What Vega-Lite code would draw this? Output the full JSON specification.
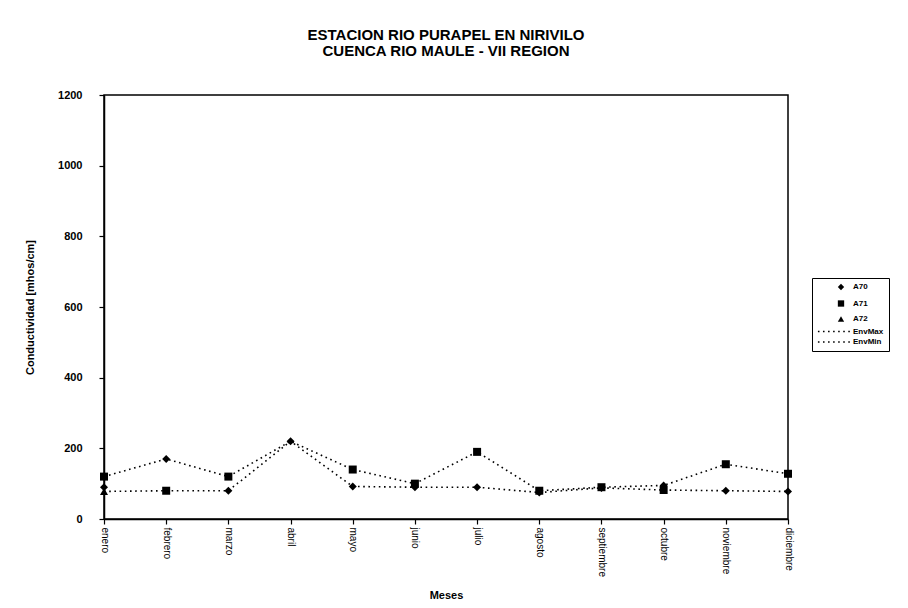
{
  "$schema": "https://vega.github.io/schema/vega-lite/v6.json",
  "width": 684,
  "height": 424,
  "autosize": {"type": "none"},
  "padding": {"left": 104, "top": 95, "right": 120, "bottom": 89},
  "background": "white",
  "config": {
    "font": "Liberation Sans",
    "view": {"stroke": "black", "strokeWidth": 1.5},
    "axis": {"grid": false, "domainColor": "black", "tickColor": "black", "labelColor": "black", "titleColor": "black", "domainWidth": 1.5, "tickWidth": 1.2}
  },
  "title": {
    "text": ["ESTACION RIO PURAPEL EN NIRIVILO", "CUENCA RIO MAULE - VII REGION"],
    "fontSize": 15,
    "fontWeight": "bold",
    "font": "Liberation Sans",
    "color": "black",
    "anchor": "middle",
    "offset": 30,
    "lineHeight": 16
  },
  "datasets": {
    "d": [
      {"mes": "enero", "serie": "A70", "valor": 90},
      {"mes": "febrero", "serie": "A70", "valor": 170},
      {"mes": "marzo", "serie": "A70", "valor": 80},
      {"mes": "abril", "serie": "A70", "valor": 220},
      {"mes": "mayo", "serie": "A70", "valor": 92},
      {"mes": "junio", "serie": "A70", "valor": 90},
      {"mes": "julio", "serie": "A70", "valor": 90},
      {"mes": "agosto", "serie": "A70", "valor": 75},
      {"mes": "septiembre", "serie": "A70", "valor": 88},
      {"mes": "octubre", "serie": "A70", "valor": 95},
      {"mes": "noviembre", "serie": "A70", "valor": 80},
      {"mes": "diciembre", "serie": "A70", "valor": 78},
      {"mes": "enero", "serie": "A71", "valor": 120},
      {"mes": "febrero", "serie": "A71", "valor": 80},
      {"mes": "marzo", "serie": "A71", "valor": 120},
      {"mes": "mayo", "serie": "A71", "valor": 140},
      {"mes": "junio", "serie": "A71", "valor": 100},
      {"mes": "julio", "serie": "A71", "valor": 190},
      {"mes": "agosto", "serie": "A71", "valor": 80},
      {"mes": "septiembre", "serie": "A71", "valor": 90},
      {"mes": "octubre", "serie": "A71", "valor": 82},
      {"mes": "noviembre", "serie": "A71", "valor": 155},
      {"mes": "diciembre", "serie": "A71", "valor": 128},
      {"mes": "enero", "serie": "A72", "valor": 78},
      {"mes": "enero", "serie": "EnvMax", "valor": 120},
      {"mes": "febrero", "serie": "EnvMax", "valor": 170},
      {"mes": "marzo", "serie": "EnvMax", "valor": 120},
      {"mes": "abril", "serie": "EnvMax", "valor": 220},
      {"mes": "mayo", "serie": "EnvMax", "valor": 140},
      {"mes": "junio", "serie": "EnvMax", "valor": 100},
      {"mes": "julio", "serie": "EnvMax", "valor": 190},
      {"mes": "agosto", "serie": "EnvMax", "valor": 80},
      {"mes": "septiembre", "serie": "EnvMax", "valor": 90},
      {"mes": "octubre", "serie": "EnvMax", "valor": 95},
      {"mes": "noviembre", "serie": "EnvMax", "valor": 155},
      {"mes": "diciembre", "serie": "EnvMax", "valor": 128},
      {"mes": "enero", "serie": "EnvMin", "valor": 78},
      {"mes": "febrero", "serie": "EnvMin", "valor": 80},
      {"mes": "marzo", "serie": "EnvMin", "valor": 80},
      {"mes": "abril", "serie": "EnvMin", "valor": 220},
      {"mes": "mayo", "serie": "EnvMin", "valor": 92},
      {"mes": "junio", "serie": "EnvMin", "valor": 90},
      {"mes": "julio", "serie": "EnvMin", "valor": 90},
      {"mes": "agosto", "serie": "EnvMin", "valor": 75},
      {"mes": "septiembre", "serie": "EnvMin", "valor": 88},
      {"mes": "octubre", "serie": "EnvMin", "valor": 82},
      {"mes": "noviembre", "serie": "EnvMin", "valor": 80},
      {"mes": "diciembre", "serie": "EnvMin", "valor": 78}
    ]
  },
  "data": {"name": "d"},
  "encoding": {
    "x": {
      "field": "mes",
      "type": "ordinal",
      "sort": ["enero", "febrero", "marzo", "abril", "mayo", "junio", "julio", "agosto", "septiembre", "octubre", "noviembre", "diciembre"],
      "scale": {"type": "point", "padding": 0},
      "axis": {
        "title": "Meses",
        "titleFontSize": 11,
        "titleFontWeight": "bold",
        "titlePadding": 13,
        "labelAngle": 90,
        "labelFontSize": 10,
        "labelPadding": 3,
        "tickSize": 5
      }
    },
    "y": {
      "field": "valor",
      "type": "quantitative",
      "scale": {"domain": [0, 1200], "nice": false},
      "axis": {
        "title": "Conductividad  [mhos/cm]",
        "titleFontSize": 11,
        "titleFontWeight": "bold",
        "titlePadding": 22,
        "values": [0, 200, 400, 600, 800, 1000, 1200],
        "format": "d",
        "labelFontSize": 11,
        "labelFontWeight": "bold",
        "labelPadding": 17,
        "tickSize": 5
      }
    }
  },
  "layer": [
    {
      "transform": [{"filter": "datum.serie == 'EnvMax' || datum.serie == 'EnvMin'"}],
      "mark": {"type": "line", "color": "black", "strokeWidth": 1.6, "strokeDash": [1.6, 3.6]},
      "encoding": {"detail": {"field": "serie"}}
    },
    {
      "transform": [{"filter": "datum.serie == 'A70' || datum.serie == 'A71' || datum.serie == 'A72'"}],
      "mark": {"type": "point", "filled": true, "color": "black", "opacity": 1, "size": 64},
      "encoding": {
        "shape": {
          "field": "serie",
          "type": "nominal",
          "scale": {
            "domain": ["A70", "A71", "A72", "EnvMax", "EnvMin"],
            "range": [
              "diamond",
              "square",
              "triangle-up",
              "M-7.3,-0.25h0.5v0.5h-0.5zM-5.7,-0.25h0.5v0.5h-0.5zM-4.1,-0.25h0.5v0.5h-0.5zM-2.5,-0.25h0.5v0.5h-0.5zM-0.9,-0.25h0.5v0.5h-0.5zM0.7,-0.25h0.5v0.5h-0.5zM2.3,-0.25h0.5v0.5h-0.5z",
              "M-7.3,-0.25h0.5v0.5h-0.5zM-5.7,-0.25h0.5v0.5h-0.5zM-4.1,-0.25h0.5v0.5h-0.5zM-2.5,-0.25h0.5v0.5h-0.5zM-0.9,-0.25h0.5v0.5h-0.5zM0.7,-0.25h0.5v0.5h-0.5zM2.3,-0.25h0.5v0.5h-0.5z"
            ]
          },
          "legend": {
            "orient": "none",
            "legendX": 708,
            "legendY": 183,
            "title": null,
            "strokeColor": "black",
            "fillColor": "white",
            "padding": 5,
            "symbolOffset": 20,
            "symbolSize": 40,
            "labelFontSize": 8,
            "labelFontWeight": "bold",
            "labelColor": "black",
            "labelOffset": 8,
            "rowPadding": 2.5,
            "encode": {
              "symbols": {
                "update": {
                  "fill": {"value": "black"},
                  "opacity": {"value": 1}
                }
              }
            }
          }
        }
      }
    }
  ]
}
